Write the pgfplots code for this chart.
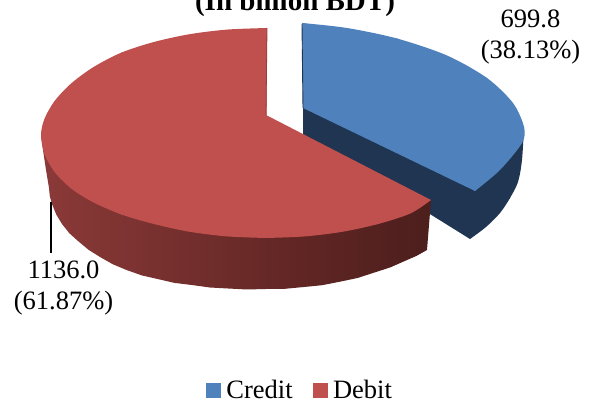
\documentclass[border=0pt]{standalone}
\usepackage{pgfplots}
\pgfplotsset{compat=1.18}
\usepackage{fontspec}
\setmainfont{Liberation Serif}
\definecolor{cblue}{RGB}{79,129,189}
\definecolor{cred}{RGB}{192,80,77}
\definecolor{cbluedark}{RGB}{31,53,82}
\definecolor{credline}{RGB}{150,62,60}
\definecolor{sa}{RGB}{168,74,71}
\definecolor{sb}{RGB}{135,56,54}
\definecolor{sc}{RGB}{97,38,36}
\definecolor{sd}{RGB}{77,31,29}
\pgfdeclarehorizontalshading{redside}{100bp}{
  color(0bp)=(sa);
  color(28bp)=(sb);
  color(58bp)=(sc);
  color(74bp)=(sd);
  color(100bp)=(sd)}
\begin{document}
\begin{tikzpicture}
\begin{axis}[
  at={(0pt,0pt)}, anchor=south west,
  scale only axis, width=598pt, height=403pt,
  xmin=0, xmax=598, ymin=0, ymax=403, y dir=reverse,
  hide axis, no markers,
  legend columns=2,
  legend style={at={(axis cs:300,390.5)}, anchor=center, draw=none, fill=none,
    font=\fontsize{26.5}{28}\selectfont, inner sep=0pt, outer sep=0pt,
    /tikz/every even column/.append style={column sep=18pt},
    /tikz/every odd column/.append style={column sep=4pt},
    row sep=0pt},
  legend cell align=left,
  legend image code/.code={\fill[#1] (-7pt,-7pt) rectangle (7pt,7pt);},
]
\addlegendimage{cblue,fill=cblue}
\addlegendentry{Credit}
\addlegendimage{cred,fill=cred}
\addlegendentry{Debit}
% blue side
\addplot[forget plot, fill=cbluedark, draw=none] coordinates {
(303,108)(303,135)(470,239)(510,198)(524,127)};
\addplot[forget plot, fill=cbluedark, draw=none, smooth] coordinates {
(470,239)(486,227)(500,213)(510,198)(518,182)(522,160)(524,127)};
% blue top
\addplot[forget plot, fill=cblue, draw=none, smooth] coordinates {
(302,23)(347,28)(397,38.5)(447,55.5)(487,78)(513,103)(524,127)(522,143)(500,170)(475,191)};
\addplot[forget plot, fill=cblue, draw=none] coordinates {
(302,23)(397,38.5)(487,78)(522,143)(475,191)(303,108)};
\addplot[forget plot, draw=cbluedark, line width=0.9pt] coordinates {(302,24)(303,108)};
% red side
\addplot[forget plot, draw=none, shade, shading=redside] coordinates {
(41,133)(43,150)(46,170)(49,188)(49.8,196.2)(52,204)(56.3,214.6)(62,224)(69.3,233.2)(78,241)(88.5,249.8)(100,257)(112.9,264.3)(126.5,270)(141.8,275.4)(157.5,279)(174.4,282.9)(191.8,285)(209.8,287.5)(228,288.5)(247,289.5)(266,289)(285,288.8)(304,287)(322.1,285.2)(340,281.7)(357.5,278)(374.5,272.5)(390.3,267.4)(405.5,260.7)(416.5,255.9)(427,250)(431,200)(266,150)};
% red top
\addplot[forget plot, fill=cred, draw=none, smooth] coordinates {
(267,28)(226.9,29.6)(189,34.3)(153.5,42.1)(121.4,52.6)(93.6,67)(71.1,83.5)(54.6,101)(44.4,119)(41,135)(44.4,154)(54.6,172)(71.1,188.5)(93.6,202.5)(121.4,214.5)(153.5,223.9)(189,231.7)(226.9,236.4)(266,238)};
\addplot[forget plot, fill=cred, draw=none, smooth] coordinates {
(266,238)(305.1,236.4)(343,231.7)(378.5,223.9)(410.6,213.4)(431,200)};
\addplot[forget plot, fill=cred, draw=none] coordinates {
(267,28)(121.4,52.6)(41,135)(121.4,214.5)(266,238)(378.5,223.9)(431,200)(266,115)};
\addplot[forget plot, draw=credline, line width=0.8pt] coordinates {(267,28)(266,115)};
% leader line
\addplot[forget plot, draw=black, line width=1.3pt] coordinates {(51,202)(51,253)};
% labels
\node[anchor=base, font=\fontsize{26.5}{28}\selectfont, inner sep=0pt] at (axis cs:530.5,28) {699.8};
\node[anchor=base, font=\fontsize{26.5}{28}\selectfont, inner sep=0pt] at (axis cs:530.5,59) {(38.13\%)};
\node[anchor=base, font=\fontsize{26.5}{28}\selectfont, inner sep=0pt] at (axis cs:63.5,279) {1136.0};
\node[anchor=base, font=\fontsize{26.5}{28}\selectfont, inner sep=0pt] at (axis cs:63.5,310) {(61.87\%)};
\node[anchor=base, font=\fontsize{29}{30}\bfseries\selectfont, inner sep=0pt] at (axis cs:295,11) {(In billion BDT)};
\end{axis}
\pgfresetboundingbox
\path[use as bounding box] (0pt,0pt) rectangle (598pt,403pt);
\end{tikzpicture}
\end{document}
